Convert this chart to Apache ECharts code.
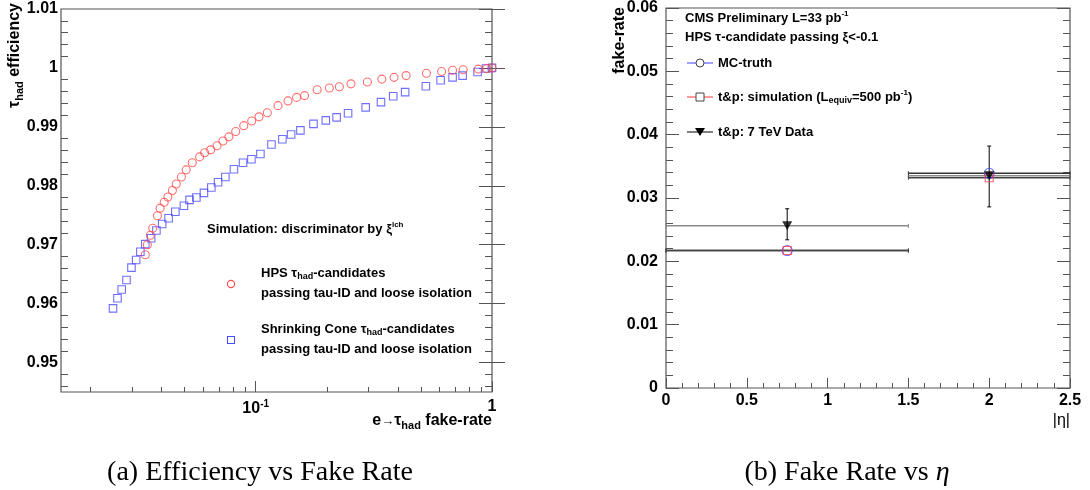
<!DOCTYPE html>
<html><head><meta charset="utf-8">
<script src="https://cdn.jsdelivr.net/npm/echarts@6/dist/echarts.min.js"></script>
<style>html,body{margin:0;padding:0;background:#fff}#c{width:1090px;height:490px}</style>
</head><body><div id="c"></div>
<script>
// ---------------- data: panel (a) efficiency vs fake-rate ----------------
const hpsFakeRate = [0.0341, 0.0348, 0.0358, 0.0367, 0.0384, 0.0394, 0.0410, 0.0425, 0.0444, 0.0461, 0.0485, 0.0508, 0.0539, 0.0579, 0.0608, 0.0645, 0.0686, 0.0727, 0.0770, 0.0823, 0.0890, 0.0962, 0.1033, 0.1120, 0.1243, 0.137, 0.149, 0.161, 0.182, 0.205, 0.226, 0.253, 0.297, 0.342, 0.385, 0.433, 0.528, 0.612, 0.681, 0.755, 0.875, 0.95, 1.0];
const hpsEff      = [0.9683, 0.9700, 0.9716, 0.9728, 0.9749, 0.9762, 0.9772, 0.9781, 0.9792, 0.9803, 0.9815, 0.9827, 0.9839, 0.9849, 0.9856, 0.9861, 0.9868, 0.9876, 0.9883, 0.9892, 0.9902, 0.9910, 0.9917, 0.9924, 0.9936, 0.9944, 0.9950, 0.9953, 0.9963, 0.9966, 0.9968, 0.9973, 0.9976, 0.9981, 0.9984, 0.9987, 0.9991, 0.9994, 0.9996, 0.9997, 0.9998, 0.9999, 1.0];
const scFakeRate  = [0.0249, 0.0260, 0.0271, 0.0284, 0.0298, 0.0312, 0.0325, 0.0341, 0.0361, 0.0380, 0.0402, 0.0428, 0.0457, 0.0497, 0.0525, 0.0561, 0.0604, 0.0649, 0.0693, 0.0744, 0.0809, 0.0884, 0.0959, 0.1047, 0.1166, 0.1297, 0.1412, 0.1546, 0.1756, 0.198, 0.220, 0.246, 0.292, 0.339, 0.382, 0.429, 0.525, 0.606, 0.681, 0.751, 0.869, 0.943, 1.0];
const scEff       = [0.9592, 0.9609, 0.9624, 0.9640, 0.9661, 0.9674, 0.9688, 0.9701, 0.9711, 0.9724, 0.9735, 0.9745, 0.9756, 0.9766, 0.9776, 0.9780, 0.9788, 0.9797, 0.9806, 0.9815, 0.9828, 0.9839, 0.9845, 0.9854, 0.9870, 0.9879, 0.9887, 0.9894, 0.9905, 0.9911, 0.9916, 0.9923, 0.9933, 0.9942, 0.9952, 0.9959, 0.9969, 0.9979, 0.9984, 0.9987, 0.9993, 0.9999, 1.0];

const effTicks = [0.95, 0.96, 0.97, 0.98, 0.99, 1.00, 1.01];
const effTickLabels = ['0.95', '0.96', '0.97', '0.98', '0.99', '1', '1.01'];
const fakeRateMinorTicks = [0.02, 0.03, 0.04, 0.05, 0.06, 0.07, 0.08, 0.09, 0.2, 0.3, 0.4, 0.5, 0.6, 0.7, 0.8, 0.9];

// ---------------- data: panel (b) fake-rate vs |eta| ----------------
const etaBinLow  = [0, 1.5];
const etaBinHigh = [1.5, 2.5];
const etaCenter  = [0.75, 2.0];
const mcTruth    = [0.0217, 0.0339];
const tpSim      = [0.0217, 0.0332];
const tpData     = [0.0256, 0.0335];
const tpDataLow  = [0.0234, 0.0286];
const tpDataHigh = [0.0283, 0.0382];
const fakeTickLabels = ['0', '0.01', '0.02', '0.03', '0.04', '0.05', '0.06'];

// ------------------------------------------------------------------
const FONT = "'Liberation Sans', Arial, Helvetica, sans-serif";
const TICK = '#555';
const effMinor = [];
for (let k = 473; k <= 504; k++) { if (k % 5 !== 0) effMinor.push(+(k * 0.002).toFixed(3)); }

const axisLabelBold = { fontFamily: FONT, fontSize: 16, fontWeight: 'bold', color: '#000' };

function hiddenAxisBase(extra) {
  return Object.assign({
    axisLine: { show: false }, splitLine: { show: false }, axisLabel: { show: false }
  }, extra);
}

function fmtLog(v) {
  const l = Math.log10(v);
  if (Math.abs(l - Math.round(l)) > 1e-6) return '';
  const e = Math.round(l);
  return e === 0 ? '{b|1}' : '{b|10}{s|' + e + '}';
}

function errBars(name, pts, hColor, vColor, xi, yi) {
  return {
    type: 'custom', name: name, xAxisIndex: xi, yAxisIndex: yi, z: 3,
    data: pts,
    renderItem: function (params, api) {
      const y = api.value(1), xc = api.value(0);
      const pL = api.coord([api.value(2), y]);
      const pR = api.coord([api.value(3), y]);
      const ch = [
        { type: 'line', shape: { x1: pL[0], y1: pL[1], x2: pR[0], y2: pR[1] }, style: { stroke: hColor, lineWidth: 1.5 } },
        { type: 'line', shape: { x1: pL[0], y1: pL[1] - 2, x2: pL[0], y2: pL[1] + 2 }, style: { stroke: hColor, lineWidth: 1 } },
        { type: 'line', shape: { x1: pR[0], y1: pR[1] - 2, x2: pR[0], y2: pR[1] + 2 }, style: { stroke: hColor, lineWidth: 1 } }
      ];
      if (pts[params.dataIndex].length > 4) {
        const pT = api.coord([xc, api.value(5)]);
        const pB = api.coord([xc, api.value(4)]);
        ch.push(
          { type: 'line', shape: { x1: pT[0], y1: pT[1], x2: pB[0], y2: pB[1] }, style: { stroke: vColor, lineWidth: 1 } },
          { type: 'line', shape: { x1: pT[0] - 2, y1: pT[1], x2: pT[0] + 2, y2: pT[1] }, style: { stroke: vColor, lineWidth: 1 } },
          { type: 'line', shape: { x1: pB[0] - 2, y1: pB[1], x2: pB[0] + 2, y2: pB[1] }, style: { stroke: vColor, lineWidth: 1 } }
        );
      }
      return { type: 'group', children: ch };
    }
  };
}

const mcPts   = etaCenter.map((x, i) => [x, mcTruth[i], etaBinLow[i], etaBinHigh[i]]);
const simPts  = etaCenter.map((x, i) => [x, tpSim[i], etaBinLow[i], etaBinHigh[i]]);
const dataPts = etaCenter.map((x, i) => [x, tpData[i], etaBinLow[i], etaBinHigh[i], tpDataLow[i], tpDataHigh[i]]);

const richBase = {
  sub: { fontFamily: FONT, fontWeight: 'bold', fontSize: 9, padding: [8, 0, 0, 0], fill: '#000' },
  sup: { fontFamily: FONT, fontWeight: 'bold', fontSize: 8, padding: [0, 0, 8, 0], fill: '#000' }
};
function txt(x, y, text, opts) {
  opts = opts || {};
  return {
    type: 'text', x: x, y: y, rotation: opts.rotation || 0, z: 10,
    style: {
      text: text, fill: '#000', fontFamily: opts.family || FONT, fontSize: opts.size || 13,
      fontWeight: opts.weight || 'bold', align: opts.align || 'left', verticalAlign: 'middle',
      rich: opts.rich || richBase
    }
  };
}
const richTitle = {
  sub: { fontFamily: FONT, fontWeight: 'bold', fontSize: 11, padding: [9, 0, 0, 0], fill: '#000' },
  ar: { fontFamily: FONT, fontWeight: 'normal', fontSize: 13, fill: '#000' }
};

const option = {
  animation: false,
  backgroundColor: '#fff',
  grid: [
    { left: 61, top: 9, width: 431, height: 383, show: true, borderColor: '#555', borderWidth: 1.2, backgroundColor: 'transparent' },
    { left: 666, top: 6, width: 404, height: 382, show: true, borderColor: '#555', borderWidth: 1.2, backgroundColor: 'transparent' }
  ],
  xAxis: [
    { type: 'log', logBase: 10, gridIndex: 0, min: 0.015, max: 1, position: 'bottom',
      axisLine: { show: false }, splitLine: { show: false },
      axisTick: { show: true, inside: true, length: 11, lineStyle: { color: TICK } },
      axisLabel: { show: true, margin: 7, showMinLabel: false, formatter: fmtLog,
        rich: { b: axisLabelBold, s: { fontFamily: FONT, fontSize: 10, fontWeight: 'bold', color: '#000', padding: [0, 0, 10, 0] } } } },
    hiddenAxisBase({ type: 'value', gridIndex: 0, min: Math.log10(0.015), max: 0, position: 'bottom',
      axisTick: { show: true, inside: true, length: 5, customValues: fakeRateMinorTicks.map(v => Math.log10(v)), lineStyle: { color: TICK } } }),
    { type: 'value', gridIndex: 1, min: 0, max: 2.5, interval: 0.5, position: 'bottom',
      axisLine: { show: false }, splitLine: { show: false },
      axisTick: { show: true, inside: true, length: 10, lineStyle: { color: TICK } },
      minorTick: { show: true, splitNumber: 5, length: 5, lineStyle: { color: TICK } },
      axisLabel: Object.assign({ margin: 5 }, axisLabelBold) }
  ],
  yAxis: [
    { type: 'value', gridIndex: 0, min: 0.945, max: 1.01, position: 'left',
      axisLine: { show: false }, splitLine: { show: false },
      axisTick: { show: true, inside: true, length: 13, customValues: effTicks, lineStyle: { color: TICK } },
      axisLabel: Object.assign({ margin: 3, customValues: effTicks,
        formatter: v => effTickLabels[effTicks.findIndex(t => Math.abs(t - v) < 1e-6)] }, axisLabelBold) },
    hiddenAxisBase({ type: 'value', gridIndex: 0, min: 0.945, max: 1.01, position: 'left',
      axisTick: { show: true, inside: true, length: 7, customValues: effMinor, lineStyle: { color: TICK } } }),
    hiddenAxisBase({ type: 'value', gridIndex: 0, min: 0.945, max: 1.01, position: 'right',
      axisTick: { show: true, inside: true, length: 13, customValues: effTicks, lineStyle: { color: TICK } } }),
    hiddenAxisBase({ type: 'value', gridIndex: 0, min: 0.945, max: 1.01, position: 'right',
      axisTick: { show: true, inside: true, length: 7, customValues: effMinor, lineStyle: { color: TICK } } }),
    { type: 'value', gridIndex: 1, min: 0, max: 0.06, interval: 0.01, position: 'left',
      axisLine: { show: false }, splitLine: { show: false },
      axisTick: { show: true, inside: true, length: 13, lineStyle: { color: TICK } },
      minorTick: { show: true, splitNumber: 5, length: 7, lineStyle: { color: TICK } },
      axisLabel: Object.assign({ margin: 8, formatter: v => fakeTickLabels[Math.round(v / 0.01)] }, axisLabelBold) },
    hiddenAxisBase({ type: 'value', gridIndex: 1, min: 0, max: 0.06, interval: 0.01, position: 'right',
      axisTick: { show: true, inside: true, length: 13, lineStyle: { color: TICK } },
      minorTick: { show: true, splitNumber: 5, length: 7, lineStyle: { color: TICK } } })
  ],
  series: [
    { type: 'scatter', name: 'Shrinking Cone', xAxisIndex: 0, yAxisIndex: 0, symbol: 'rect', symbolSize: 7.5,
      itemStyle: { color: 'rgba(0,0,0,0)', borderColor: '#4b4bff', borderWidth: 1.1 },
      data: scFakeRate.map((x, i) => [x, scEff[i]]) },
    { type: 'scatter', name: 'HPS', xAxisIndex: 0, yAxisIndex: 0, symbol: 'circle', symbolSize: 8,
      itemStyle: { color: 'rgba(0,0,0,0)', borderColor: '#ff4b4b', borderWidth: 1.1 },
      data: hpsFakeRate.map((x, i) => [x, hpsEff[i]]) },
    errBars('t&p: 7 TeV Data bars', dataPts, '#8a8a8a', '#000', 2, 4),
    errBars('MC-truth bars', mcPts, '#333', '#333', 2, 4),
    errBars('t&p: simulation bars', simPts, '#444', '#444', 2, 4),
    { type: 'scatter', name: 'MC-truth', xAxisIndex: 2, yAxisIndex: 4, symbol: 'circle', symbolSize: 10, z: 4,
      itemStyle: { color: 'rgba(0,0,0,0)', borderColor: '#4040ff', borderWidth: 1.1 },
      data: etaCenter.map((x, i) => [x, mcTruth[i]]) },
    { type: 'scatter', name: 't&p: simulation', xAxisIndex: 2, yAxisIndex: 4, symbol: 'rect', symbolSize: 8, z: 5,
      itemStyle: { color: 'rgba(0,0,0,0)', borderColor: '#ff3b5c', borderWidth: 1.1 },
      data: etaCenter.map((x, i) => [x, tpSim[i]]) },
    { type: 'scatter', name: 't&p: 7 TeV Data', xAxisIndex: 2, yAxisIndex: 4, symbol: 'triangle', symbolRotate: 180,
      symbolSize: [10, 9], z: 6, itemStyle: { color: '#000' },
      data: etaCenter.map((x, i) => [x, tpData[i]]) }
  ],
  graphic: [
    // panel (a) titles
    txt(15, 3, 'τ{sub|had} efficiency', { size: 16, align: 'right', rotation: Math.PI / 2, rich: richTitle }),
    txt(492, 421, 'e{ar|→}τ{sub|had} fake-rate', { size: 16, align: 'right', rich: richTitle }),
    // panel (a) legend
    txt(207, 229, 'Simulation: discriminator by ξ{sup|lch}'),
    { type: 'circle', shape: { cx: 231, cy: 284, r: 3.6 }, style: { fill: 'none', stroke: '#ff4b4b', lineWidth: 1.1 } },
    txt(261, 273, 'HPS τ{sub|had}-candidates'),
    txt(261, 293, 'passing tau-ID and loose isolation'),
    { type: 'rect', shape: { x: 227.5, y: 336.5, width: 7, height: 7 }, style: { fill: 'none', stroke: '#4b4bff', lineWidth: 1.1 } },
    txt(261, 329, 'Shrinking Cone τ{sub|had}-candidates'),
    txt(261, 349, 'passing tau-ID and loose isolation'),
    // panel (b) titles
    txt(620, 7, 'fake-rate', { size: 16, align: 'right', rotation: Math.PI / 2 }),
    txt(1070, 421, '|η|', { size: 16, align: 'right', weight: 'normal' }),
    // panel (b) legend
    txt(685, 18, 'CMS Preliminary L=33 pb{sup|-1}'),
    txt(685, 37, 'HPS τ-candidate passing ξ<-0.1'),
    { type: 'line', shape: { x1: 687, y1: 63, x2: 713, y2: 63 }, style: { stroke: '#4040ff', lineWidth: 1 } },
    { type: 'circle', shape: { cx: 700, cy: 63, r: 4 }, style: { fill: '#fff', stroke: '#444', lineWidth: 1 } },
    txt(718, 63, 'MC-truth'),
    { type: 'line', shape: { x1: 687, y1: 97, x2: 713, y2: 97 }, style: { stroke: '#ff9a9a', lineWidth: 2 } },
    { type: 'rect', shape: { x: 696, y: 93, width: 8, height: 8 }, style: { fill: '#fff', stroke: '#444', lineWidth: 1 } },
    txt(718, 97, 't&p: simulation (L{sub|equiv}=500 pb{sup|-1})'),
    { type: 'line', shape: { x1: 687, y1: 132, x2: 713, y2: 132 }, style: { stroke: '#555', lineWidth: 1.5 } },
    { type: 'polygon', shape: { points: [[695, 128], [705, 128], [700, 136]] }, style: { fill: '#000' } },
    txt(718, 132, 't&p: 7 TeV Data'),
    // captions
    txt(260, 473, '(a) Efficiency vs Fake Rate', { size: 28, weight: 'normal', align: 'center', family: "'Liberation Serif', 'Times New Roman', serif" }),
    txt(847, 473, '(b) Fake Rate vs {i|η}', { size: 28, weight: 'normal', align: 'center', family: "'Liberation Serif', 'Times New Roman', serif",
      rich: { i: { fontFamily: "'Liberation Serif', serif", fontSize: 28, fontStyle: 'italic', fill: '#000' } } })
  ]
};

const chart = echarts.init(document.getElementById('c'), null, { renderer: 'canvas' });
chart.setOption(option);
</script>
</body></html>
